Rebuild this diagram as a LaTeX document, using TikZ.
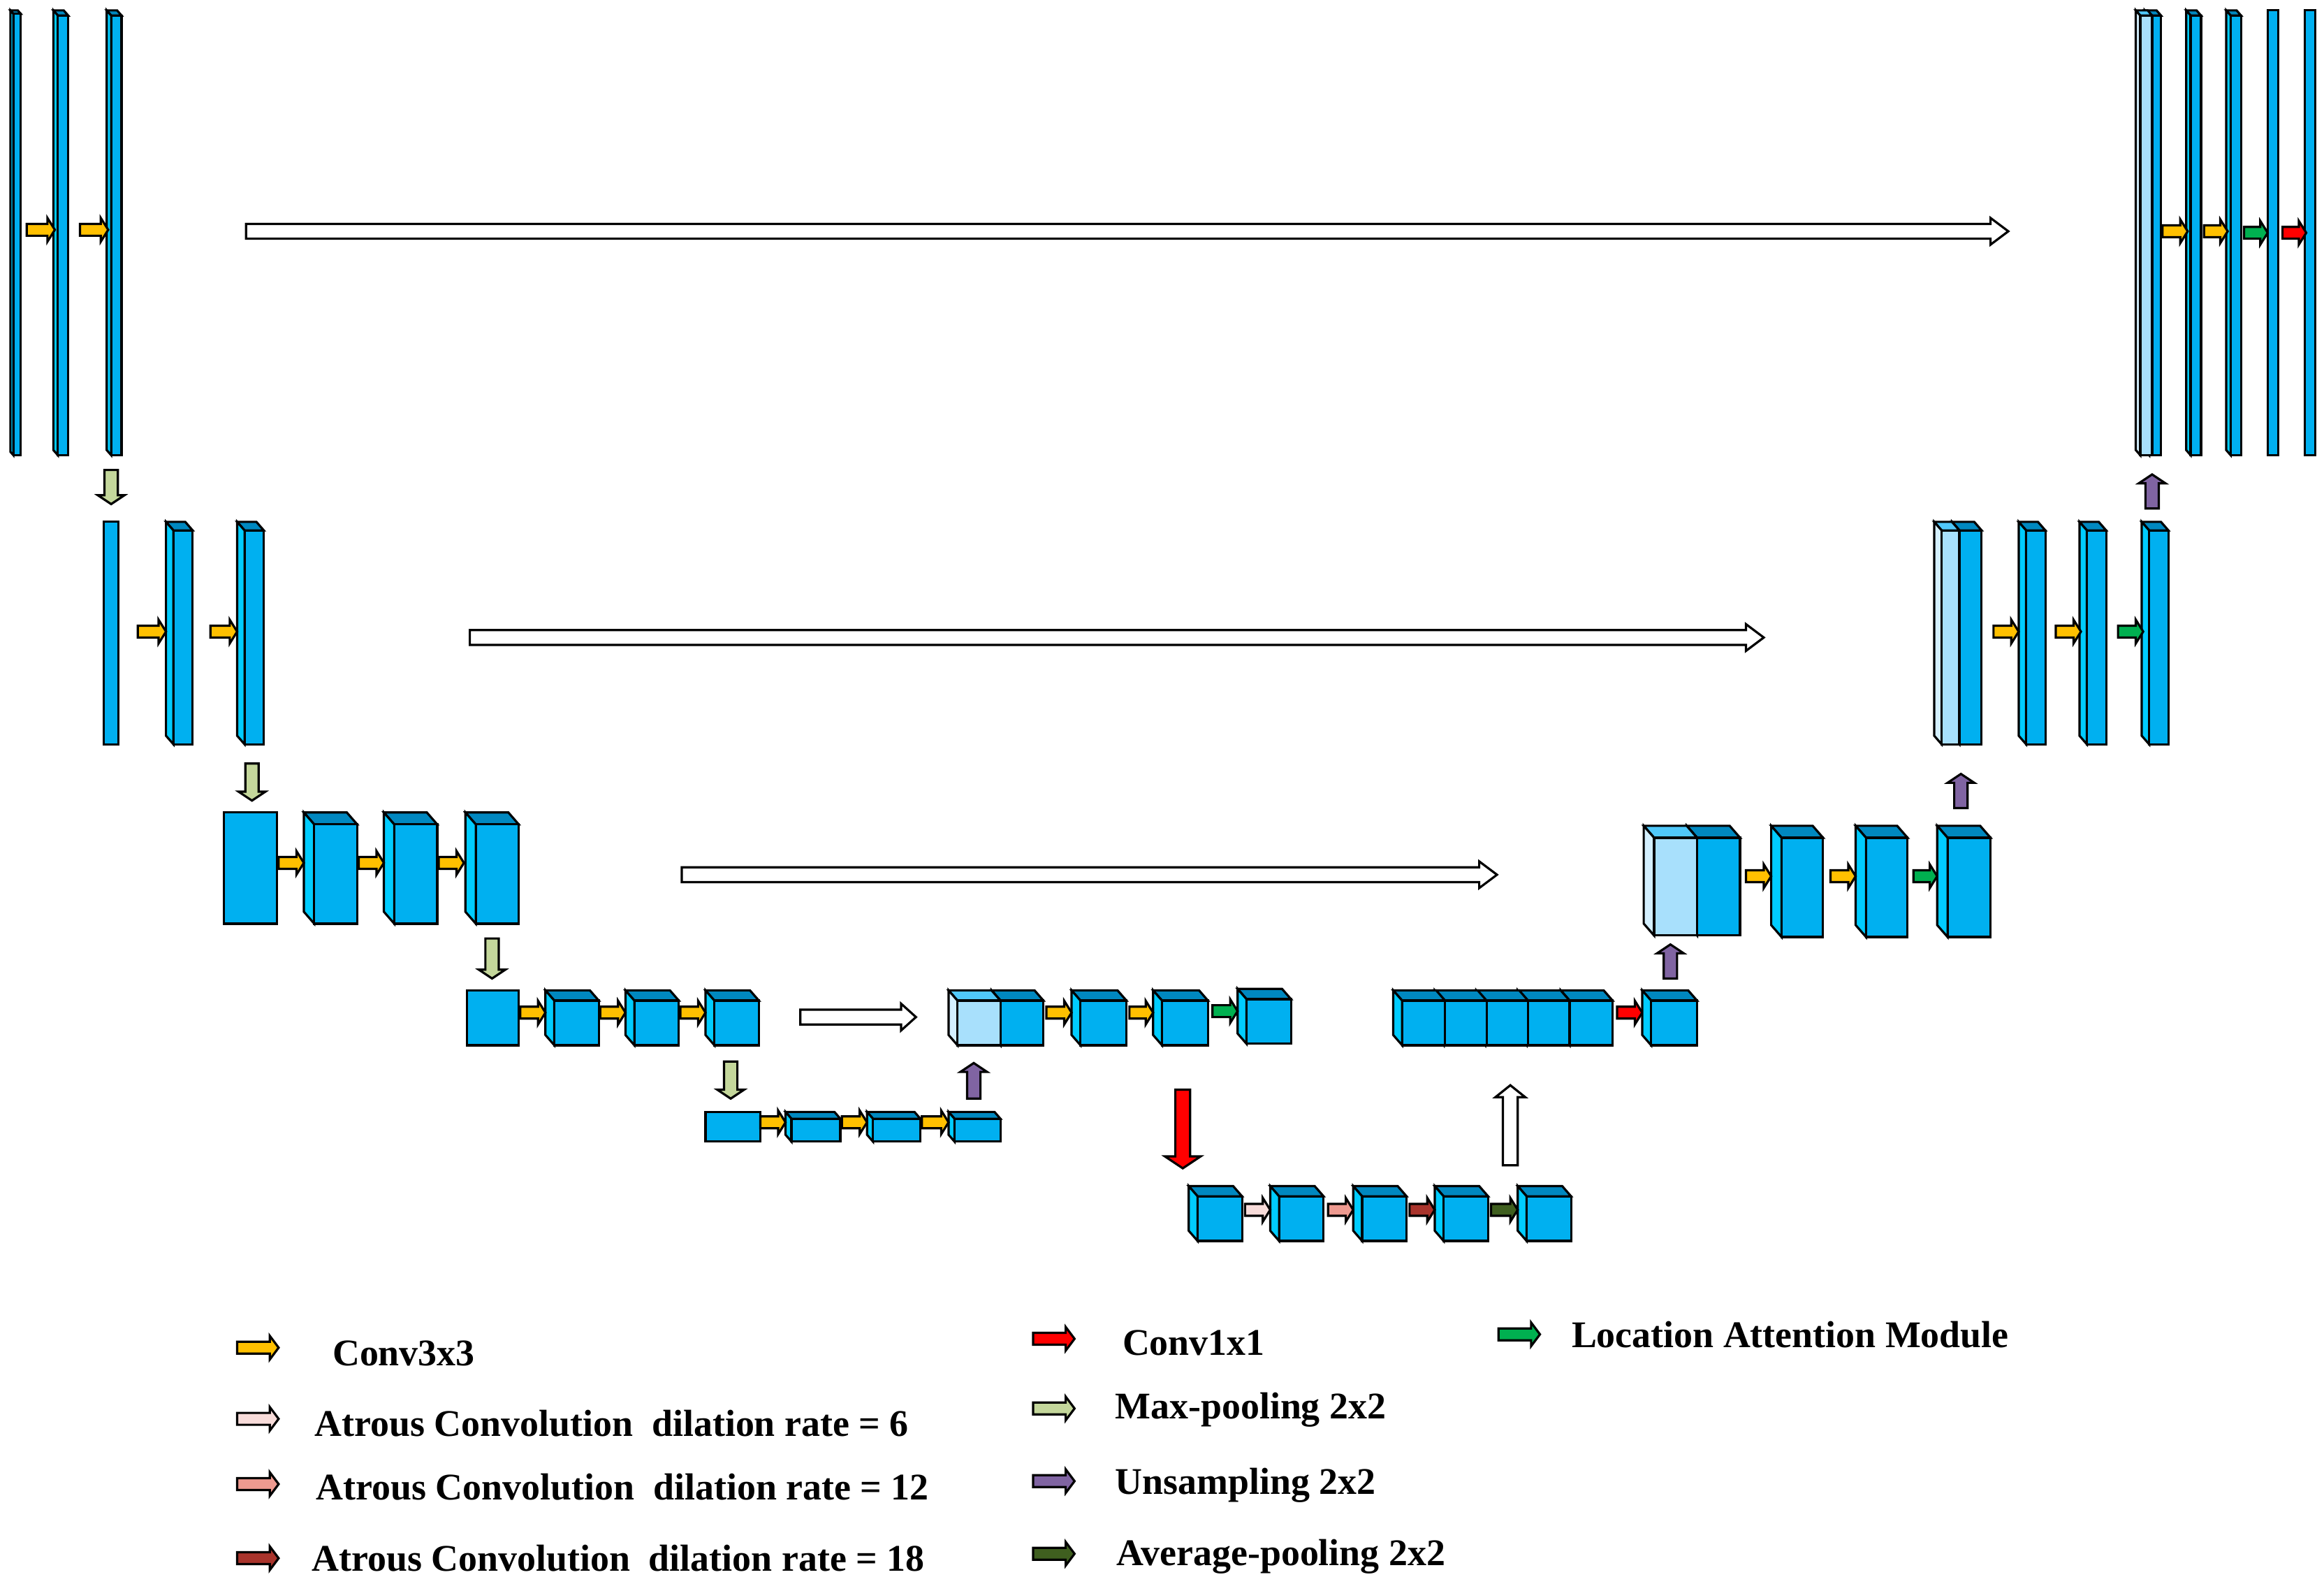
\documentclass[tikz,border=0pt]{standalone}
\usepackage{fontspec}
\setmainfont{Liberation Serif}
\begin{document}
\definecolor{cf}{HTML}{00B0F0}\definecolor{cs}{HTML}{00CCFF}\definecolor{ct}{HTML}{0088C0}
\definecolor{lf}{HTML}{A8E0FC}\definecolor{ls}{HTML}{D4F0FF}\definecolor{lt}{HTML}{50C8FA}
\definecolor{ayel}{HTML}{FFC000}\definecolor{agrn}{HTML}{00B050}\definecolor{ared}{HTML}{FF0000}
\definecolor{apool}{HTML}{C4D79B}\definecolor{apur}{HTML}{8064A2}\definecolor{apink}{HTML}{F8DCDA}
\definecolor{asal}{HTML}{EE9A90}\definecolor{abrn}{HTML}{A9342C}\definecolor{adgr}{HTML}{3F5F1F}
\begin{tikzpicture}[x=0.5pt,y=-0.5pt,line join=miter,
  ol/.style={draw=black,line width=0.75pt},
  lg/.style={font=\fontsize{12.7pt}{15pt}\selectfont\bfseries,anchor=west,inner sep=0pt}]
\useasboundingbox (0,0) rectangle (1568,1073);
% cube: x0 x1 y0 y1 d front side top
\newcommand{\mycube}[8]{%
 \filldraw[ol,fill=#8] (#1,#3) -- (#2-#5,#3) -- (#2,#3+1.15*#5) -- (#1+#5,#3+1.15*#5) -- cycle;
 \filldraw[ol,fill=#7] (#1,#3) -- (#1+#5,#3+1.15*#5) -- (#1+#5,#4) -- (#1,#4-1.15*#5) -- cycle;
 \filldraw[ol,fill=#6] (#1+#5,#3+1.15*#5) rectangle (#2,#4);}
\newcommand{\cc}[5]{\mycube{#1}{#2}{#3}{#4}{#5}{cf}{cs}{ct}}
\newcommand{\cl}[5]{\mycube{#1}{#2}{#3}{#4}{#5}{lf}{ls}{lt}}
\newcommand{\myflat}[4]{\filldraw[ol,fill=cf] (#1,#3) rectangle (#2,#4);}
% horizontal arrow: fill xa xb y h H L
\newcommand{\harr}[7]{\filldraw[ol,fill=#1] (#2,#4-#5) -- (#3-#7,#4-#5) -- (#3-#7,#4-#6) -- (#3,#4) -- (#3-#7,#4+#6) -- (#3-#7,#4+#5) -- (#2,#4+#5) -- cycle;}
\newcommand{\sa}[4]{\harr{#1}{#2}{#3}{#4}{4}{8}{5}}
% vertical arrow: fill x ya yb w W L (L signed, tip at yb)
\newcommand{\varr}[7]{\filldraw[ol,fill=#1] (#2-#5,#3) -- (#2-#5,#4-#7) -- (#2-#6,#4-#7) -- (#2,#4) -- (#2+#6,#4-#7) -- (#2+#5,#4-#7) -- (#2+#5,#3) -- cycle;}
\newcommand{\vd}[4]{\varr{#1}{#2}{#3}{#4}{4.5}{9}{6}}
\newcommand{\vu}[4]{\varr{#1}{#2}{#3}{#4}{4.5}{9}{-6}}

% ===== Row 1
\cc{7}{14}{7}{307}{2}
\cc{36}{46}{7}{307}{3}
\cc{72}{82}{7}{307}{3}
\sa{ayel}{18}{37}{155}\sa{ayel}{54}{73}{155}
\harr{white}{166}{1355}{156}{5}{9}{12}
\cc{1447}{1458}{7}{307}{3}
\cl{1441}{1452}{7}{307}{3}
\cc{1475}{1485}{7}{307}{3}
\cc{1502}{1512}{7}{307}{3}
\myflat{1530}{1537}{7}{307}
\myflat{1555}{1562}{7}{307}
\sa{ayel}{1459}{1476}{156}\sa{ayel}{1487}{1503}{156}
\sa{agrn}{1514}{1530}{157}\sa{ared}{1540}{1556}{157}
\vd{apool}{75}{317}{340}
\vu{apur}{1452}{343}{320}

% ===== Row 2
\myflat{70}{80}{352}{502}
\cc{112}{130}{352}{502}{5}
\cc{160}{178}{352}{502}{5}
\sa{ayel}{93}{112}{426}\sa{ayel}{142}{160}{426}
\harr{white}{317}{1190}{430}{5}{9}{12}
\cc{1317}{1337}{352}{502}{5}
\cl{1305}{1322}{352}{502}{5}
\cc{1362}{1380}{352}{502}{5}
\cc{1403}{1421}{352}{502}{5}
\cc{1445}{1463}{352}{502}{5}
\sa{ayel}{1345}{1362}{426}\sa{ayel}{1387}{1404}{426}\sa{agrn}{1429}{1446}{426}
\vd{apool}{170}{515}{540}
\vu{apur}{1323}{545}{522}

% ===== Row 3
\myflat{151}{187}{548}{623}
\cc{205}{241}{548}{623}{7}
\cc{259}{295}{548}{623}{7}
\cc{314}{350}{548}{623}{7}
\sa{ayel}{188}{205}{582}\sa{ayel}{242}{259}{582}\sa{ayel}{296}{313}{582}
\harr{white}{460}{1010}{590}{5}{9}{12}
\cc{1138}{1174}{557}{631}{7}
\cl{1109}{1145}{557}{631}{7}
\cc{1195}{1230}{557}{632}{7}
\cc{1252}{1287}{557}{632}{7}
\cc{1307}{1343}{557}{632}{7}
\sa{ayel}{1178}{1195}{591}\sa{ayel}{1235}{1252}{591}\sa{agrn}{1291}{1307}{591}
\vd{apool}{332}{633}{660}
\vu{apur}{1127}{660}{637}

% ===== Row 4
\myflat{315}{350}{668}{705}
\cc{368}{404}{668}{705}{6}
\cc{422}{458}{668}{705}{6}
\cc{476}{512}{668}{705}{6}
\sa{ayel}{351}{368}{683}\sa{ayel}{405}{422}{683}\sa{ayel}{459}{476}{683}
\harr{white}{540}{618}{686}{5}{9}{10}
\cc{669}{704}{668}{705}{6}
\cl{640}{675}{668}{705}{6}
\cc{723}{760}{668}{705}{6}
\cc{778}{815}{668}{705}{6}
\cc{835}{871}{667}{704}{6}
\sa{ayel}{706}{723}{683}\sa{ayel}{762}{778}{683}\sa{agrn}{818}{835}{682}
\cc{1053}{1088}{668}{705}{6}
\cc{1024}{1059}{668}{705}{6}
\cc{996}{1031}{668}{705}{6}
\cc{968}{1003}{668}{705}{6}
\cc{940}{975}{668}{705}{6}
\sa{ared}{1091}{1108}{683}
\cc{1108}{1145}{668}{705}{6}
\vd{apool}{493}{716}{741}
\vu{apur}{657}{741}{717}

% ===== Row 5
\myflat{476}{513}{750}{770}
\cc{530}{567}{750}{770}{4}
\cc{585}{621}{750}{770}{4}
\cc{640}{675}{750}{770}{4}
\sa{ayel}{513}{530}{757}\sa{ayel}{568}{585}{757}\sa{ayel}{622}{640}{757}

% ===== ASPP
\varr{ared}{798}{735}{788}{5}{12}{8}
\varr{white}{1019}{786}{732}{5}{10}{-8}
\cc{802}{838}{800}{837}{6}
\cc{857}{893}{800}{837}{6}
\cc{913}{949}{800}{837}{6}
\cc{968}{1004}{800}{837}{6}
\cc{1024}{1060}{800}{837}{6}
\sa{apink}{840}{857}{816}\sa{asal}{896}{913}{816}\sa{abrn}{951}{968}{816}\sa{adgr}{1006}{1024}{816}

% ===== Legend
\newcommand{\la}[3]{\harr{#1}{#2}{#2+28}{#3}{4}{8}{6}}
\la{ayel}{160}{909}\node[lg] (t1) at (224,913) {Conv3x3};
\la{apink}{160}{957}\node[lg] (t2) at (212,960) {Atrous Convolution\ \ dilation rate = 6};
\la{asal}{160}{1001}\node[lg] (t3) at (213,1003) {Atrous Convolution\ \ dilation rate = 12};
\la{abrn}{160}{1051}\node[lg] (t4) at (210,1051) {Atrous Convolution\ \ dilation rate = 18};
\la{ared}{697}{903}\node[lg] (t5) at (757,906) {Conv1x1};
\la{apool}{697}{950}\node[lg] (t6) at (752,951) {Max-pooling 2x2};
\la{apur}{697}{999}\node[lg] (t7) at (752,1002) {Unsampling 2x2};
\la{adgr}{697}{1048}\node[lg] (t8) at (753,1050) {Average-pooling 2x2};
\la{agrn}{1011}{900}\node[lg] (t9) at (1060,900) {Location Attention Module};
\end{tikzpicture}
\end{document}
